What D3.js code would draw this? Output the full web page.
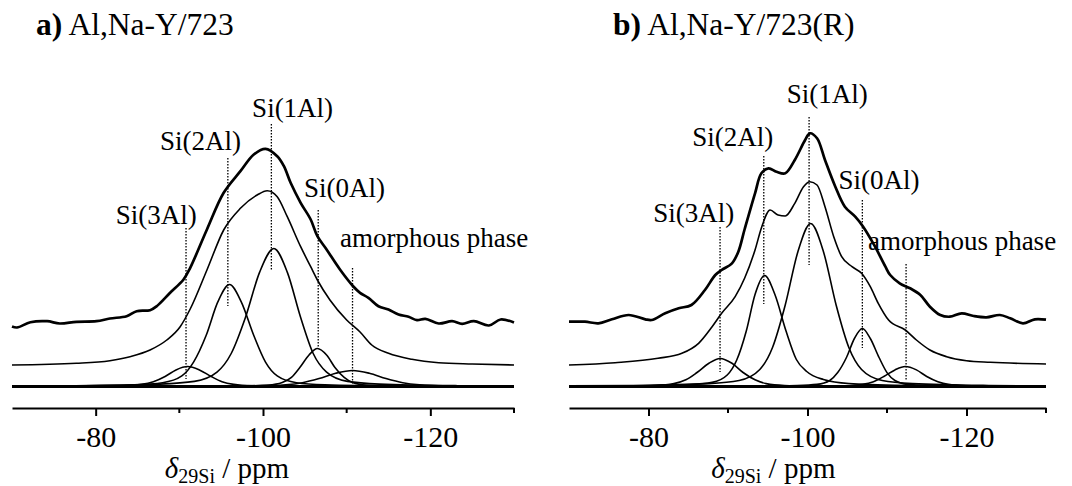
<!DOCTYPE html>
<html>
<head>
<meta charset="utf-8">
<script src="https://cdn.jsdelivr.net/npm/d3@7"></script>
<style>
  body { margin: 0; background: #fff; }
  svg { display: block; }
</style>
</head>
<body>
<div id="chart"></div>
<script>
// shift axis (ppm)
const xTicks = [-80, -100, -120];
const xMinor = [-90, -110, -130];
const peakNames = ['Si(3Al)', 'Si(2Al)', 'Si(1Al)', 'Si(0Al)', 'amorphous phase'];

/* ---------- a) Al,Na-Y/723 ---------- */
const titleA = 'Al,Na-Y/723';
// measured spectrum  [ppm, intensity]
const expA = [[-70.0,-5],[-70.6,-6],[-72.2,-0.7],[-74.2,0.3],[-75.7,-2],[-77.7,-0.3],[-80.1,0.3],[-81.7,3],[-83.7,5.3],[-84.9,10.3],[-86.5,11.3],[-87.3,15.3],[-88.9,28.7],[-90.5,42],[-91.3,53.7],[-93.3,92],[-95.3,128.7],[-97.3,150.3],[-98.9,167],[-100.3,172.7],[-101.7,165.3],[-102.5,155.3],[-103.3,138.7],[-104.5,118.7],[-105.7,102],[-106.5,85.3],[-107.6,72],[-109.2,52],[-110.8,35],[-111.6,28.7],[-112.6,23.7],[-113.8,15.3],[-115.0,12],[-116.2,7],[-117.4,4.7],[-118.4,1.3],[-119.4,2.7],[-121.0,-2],[-122.6,0.3],[-123.8,-2.3],[-125.2,0.3],[-127.0,-4],[-128.4,2],[-130,-1]];
// simulated sum
const fitA = [[-70,0],[-77.7,1.7],[-81.7,4.3],[-84.1,8.3],[-86.5,15],[-88.5,25],[-90.1,38.3],[-91.3,56],[-93.3,95],[-95.3,135],[-97.3,156.7],[-99.3,170],[-100.5,174.3],[-101.7,168.3],[-102.9,148.3],[-104.5,118.3],[-105.7,98.3],[-106.5,85],[-108.0,65],[-110.0,45],[-111.6,33],[-113.0,20],[-115.0,11.7],[-117.8,5.7],[-121.0,2.3],[-125.0,1],[-130,0]];
// components
const si3A = [[-70,0.1],[-80.0,0.35],[-83.3,0.7],[-85.5,2.1],[-86.9,4.8],[-88.3,10],[-89.6,16.6],[-91.0,20],[-92.4,16.6],[-93.8,10],[-95.1,4.8],[-96.5,2.1],[-98.7,0.7],[-102.0,0.35],[-110.3,0.12],[-130,0]];
const si2A = [[-70,0.4],[-76.0,0.6],[-84.6,1.8],[-88.0,3.8],[-90.3,10.6],[-91.7,24.4],[-93.2,51],[-94.6,84.6],[-96.0,102],[-97.4,84.6],[-98.9,51],[-100.3,24.4],[-101.7,10.6],[-104.0,3.8],[-107.4,1.8],[-116.0,0.6],[-130,0.2]];
const si1A = [[-70,0.5],[-77.5,0.8],[-87.7,2.4],[-91.8,5.1],[-94.5,14.4],[-96.2,33],[-97.9,69],[-99.6,114.4],[-101.3,138],[-102.9,114.4],[-104.5,69],[-106.0,33],[-107.6,14.4],[-110.1,5.1],[-113.9,2.4],[-123.3,0.8],[-130,0.5]];
const si0A = [[-70,0],[-91.8,0.23],[-98.1,0.67],[-100.6,1.4],[-102.3,4.0],[-103.4,9.1],[-104.4,19],[-105.5,31.5],[-106.5,38],[-107.6,31.5],[-108.6,19],[-109.7,9.1],[-110.7,4.0],[-112.4,1.4],[-114.9,0.67],[-121.2,0.23],[-130,0.05]];
const amorA = [[-70,0.05],[-82.7,0.1],[-94.7,0.28],[-99.5,0.6],[-102.7,1.7],[-104.7,3.8],[-106.7,8],[-108.7,13.3],[-110.7,16],[-112.7,13.3],[-114.7,8],[-116.7,3.8],[-118.7,1.7],[-121.9,0.6],[-126.7,0.28],[-130,0.2]];
// assignments
const peakPpmA = [-90.8, -95.8, -101.0, -106.6, -110.7];
const dotTopA = [158.5, 228.5, 262.5, 176.5, 118.5];
const dotBottomA = [7.5, 80.5, 115.5, 39.5, 1.5];
const labelPpmA = [-82.4, -87.7, -98.7, -104.9, -109.2];
const labelLevelA = [162.5, 236.5, 269.5, 189.5, 139.5];

/* ---------- b) Al,Na-Y/723(R) ---------- */
const titleB = 'Al,Na-Y/723(R)';
const expB = [[-70.0,-0.2],[-72.0,-0.2],[-73.7,-1.8],[-75.4,2.2],[-77.5,6.5],[-79.6,2.2],[-80.4,1.5],[-82.1,8.2],[-83.8,13.2],[-85.4,16.5],[-87.1,31.5],[-88.4,46.5],[-89.2,51.5],[-90.5,58.2],[-91.3,69.8],[-92.1,92.5],[-93.4,128.2],[-94.2,148.2],[-95.1,153.2],[-96.1,149.8],[-97.2,148.2],[-98.4,161.5],[-99.7,181.5],[-100.3,188.2],[-101.2,183.2],[-102.2,161.5],[-103.5,134.8],[-104.7,114.8],[-106.0,104.8],[-107.0,94.8],[-108.5,74.8],[-109.8,54.8],[-110.4,46.5],[-111.6,38.2],[-112.9,33.2],[-114.2,26.5],[-115.4,14.8],[-116.7,6.5],[-117.9,4.8],[-119.4,8.2],[-120.9,5.5],[-122.5,4.2],[-124.2,6.5],[-125.5,3.2],[-127.1,-1.8],[-128.6,2.2],[-130,1.8]];
const fitB = [[-70,0],[-75.8,2.3],[-81.2,6.7],[-84.2,11.7],[-86.3,21.7],[-88.0,38.3],[-89.2,51.7],[-90.9,68.3],[-92.1,87],[-93.4,115],[-94.2,137],[-95.3,155],[-96.3,150],[-97.2,149],[-98.4,161.7],[-99.5,178.3],[-100.3,183.3],[-101.2,180],[-102.2,158.3],[-103.3,128.3],[-104.3,108.3],[-105.6,98.3],[-106.8,91.7],[-107.9,78.3],[-108.9,61.7],[-110.2,45],[-112.3,35],[-113.7,25],[-115.4,15],[-117.5,8.3],[-120.0,4.3],[-123.0,2.7],[-130,1]];
const si3B = [[-70,0.2],[-77.4,0.5],[-80.9,1.0],[-83.2,2.9],[-84.7,6.7],[-86.1,14],[-87.6,23.2],[-89.0,28],[-90.5,23.2],[-91.9,14],[-93.4,6.7],[-94.8,2.9],[-97.1,1.0],[-100.6,0.5],[-109.3,0.17],[-130,0]];
const si2B = [[-70,0.3],[-78.1,0.67],[-85.2,2.0],[-88.0,4.1],[-89.9,11.5],[-91.1,26.5],[-92.3,55.5],[-93.4,92],[-94.6,111],[-95.9,92],[-97.3,55.5],[-98.6,27],[-99.9,15],[-102.0,7],[-105.2,3],[-113.2,1],[-130,0.3]];
const si1B = [[-70,0.6],[-78.0,1.0],[-87.6,2.9],[-91.4,6.0],[-94.0,17],[-95.6,39],[-97.2,81.5],[-98.8,135],[-100.4,163],[-102.0,135],[-103.6,81.5],[-105.2,39],[-106.8,17],[-109.4,6.0],[-113.2,2.9],[-122.8,1.0],[-130,0.6]];
const si0B = [[-70,0.05],[-92.6,0.35],[-98.7,1.0],[-101.2,2.1],[-102.8,6.0],[-103.8,13.9],[-104.9,29],[-105.9,48],[-106.9,58],[-107.9,48],[-109.0,29],[-110.0,13.9],[-111.0,6.0],[-112.6,2.1],[-115.1,1.0],[-121.3,0.35],[-130,0.1]];
const amorB = [[-70,0],[-93.4,0.12],[-101.5,0.35],[-104.7,0.74],[-106.9,2.1],[-108.3,4.8],[-109.6,10],[-111.0,16.6],[-112.3,20],[-113.7,16.6],[-115.0,10],[-116.4,4.8],[-117.7,2.1],[-119.9,0.74],[-123.1,0.35],[-130,0.1]];
const peakPpmB = [-89.0, -94.5, -100.2, -106.9, -112.4];
const dotTopB = [159.5, 230.5, 269.5, 186.5, 122.5];
const dotBottomB = [14.5, 82.5, 121.5, 38.5, 6.5];
const labelPpmB = [-80.6, -85.5, -97.4, -103.9, -107.6];
const labelLevelB = [164.5, 240.5, 283.5, 197.5, 136.5];


const W = 1072, H = 486;
const FONT = "'Liberation Serif', 'Times New Roman', Tinos, 'Nimbus Roman', FreeSerif, 'DejaVu Serif', serif";

const svg = d3.select('#chart').append('svg')
  .attr('width', W)
  .attr('height', H)
  .style('font-family', FONT);

// stacking of the traces above the component baseline
const fitOffset = 21.5;
const expOffset = 65;

function drawPanel(p) {
  const g = svg.append('g').attr('class', 'panel');

  const x = d3.scaleLinear().domain([-70, -130]).range(p.range);
  const y = d3.scaleLinear().domain([0, 290]).range([386.5, 96.5]);

  let trace = (off) => d3.line()
    .x(d => x(d[0]))
    .y(d => y(d[1] + off))
    .curve(d3.curveMonotoneX);

  // components
  p.comps.forEach(c => {
    g.append('path')
      .attr('d', trace(0)(c))
      .attr('fill', 'none')
      .attr('stroke', '#000')
      .attr('stroke-width', 1.6);
  });

  // zero line under the components
  g.append('line')
    .attr('x1', x(-70)).attr('x2', x(-130))
    .attr('y1', y(0)).attr('y2', y(0))
    .attr('stroke', '#000')
    .attr('stroke-width', 3.2);

  // simulated sum
  g.append('path')
    .attr('d', trace(fitOffset)(p.fit))
    .attr('fill', 'none')
    .attr('stroke', '#000')
    .attr('stroke-width', 1.6);

  // experimental
  g.append('path')
    .attr('d', trace(expOffset).curve(d3.curveCatmullRom.alpha(0.5))(p.exp))
    .attr('fill', 'none')
    .attr('stroke', '#000')
    .attr('stroke-width', 2.7);

  // dotted assignment lines + labels
  peakNames.forEach((name, i) => {
    g.append('line')
      .attr('x1', x(p.peak[i])).attr('x2', x(p.peak[i]))
      .attr('y1', y(p.dotTop[i])).attr('y2', y(p.dotBottom[i]))
      .attr('stroke', '#000')
      .attr('stroke-width', 1.3)
      .attr('stroke-dasharray', '1.5,1.5');
    g.append('text')
      .attr('x', x(p.labelPpm[i]))
      .attr('y', y(p.labelLevel[i]))
      .style('font-family', FONT)
      .style('font-size', '27px')
      .text(name);
  });

  // axis
  const axisY = 408;
  const axis = g.append('g')
    .attr('transform', `translate(0, ${axisY})`)
    .call(d3.axisBottom(x)
      .tickValues(xTicks)
      .tickSize(8)
      .tickSizeOuter(0)
      .tickPadding(10)
      .tickFormat(d => String(d)));
  axis.attr('font-family', null).attr('font-size', null);
  axis.select('.domain').attr('stroke-width', 2);
  axis.selectAll('.tick line').attr('stroke-width', 2);
  axis.selectAll('.tick text')
    .style('font-family', FONT)
    .style('font-size', '30px');

  axis.selectAll('.minor')
    .data(xMinor)
    .enter()
    .append('line')
      .attr('class', 'minor')
      .attr('x1', d => x(d)).attr('x2', d => x(d))
      .attr('y1', 0).attr('y2', 5)
      .attr('stroke', '#000')
      .attr('stroke-width', 2);

  // axis label
  let lab = g.append('text')
    .attr('x', x(-95.7))
    .attr('y', 478)
    .attr('text-anchor', 'middle')
    .style('font-family', FONT)
    .style('font-size', '29px');
  lab.append('tspan').style('font-style', 'italic').text('\u03b4');
  lab.append('tspan').attr('dy', 5).style('font-size', '20px').text('29Si');
  lab.append('tspan').attr('dy', -5).text(' / ppm');

  // title
  let t = g.append('text')
    .attr('x', p.titleX)
    .attr('y', 35)
    .style('font-family', FONT)
    .style('font-size', '31.5px');
  t.append('tspan').style('font-weight', 'bold').text(p.tag);
  t.append('tspan').text(' ' + p.title);
}

drawPanel({
  range: [12, 514], tag: 'a)', title: titleA, titleX: 36,
  exp: expA, fit: fitA, comps: [si3A, si2A, si1A, si0A, amorA],
  peak: peakPpmA, dotTop: dotTopA, dotBottom: dotBottomA,
  labelPpm: labelPpmA, labelLevel: labelLevelA
});
drawPanel({
  range: [569, 1046], tag: 'b)', title: titleB, titleX: 613,
  exp: expB, fit: fitB, comps: [si3B, si2B, si1B, si0B, amorB],
  peak: peakPpmB, dotTop: dotTopB, dotBottom: dotBottomB,
  labelPpm: labelPpmB, labelLevel: labelLevelB
});
</script>
</body>
</html>
